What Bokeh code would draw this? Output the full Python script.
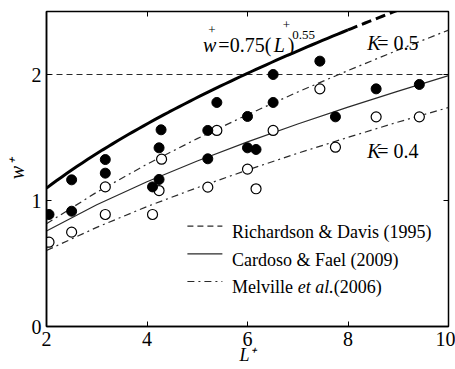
import numpy as np
from bokeh.plotting import figure
from bokeh.models import Range1d, FixedTicker, LinearAxis
from bokeh.core.properties import value
from bokeh.embed import file_html
from bokeh.resources import INLINE

# ---- data ----
filled_L = [2.05, 2.5, 2.5, 3.17, 3.17, 4.28, 4.24, 4.24, 4.11, 5.39, 5.21, 5.21,
            6.0, 6.0, 6.17, 6.51, 6.51, 7.44, 7.75, 8.56, 9.42]
filled_w = [0.889, 1.164, 0.915, 1.325, 1.217, 1.561, 1.418, 1.167, 1.108, 1.778, 1.556, 1.331,
            1.667, 1.418, 1.405, 2.0, 1.778, 2.106, 1.664, 1.886, 1.921]
open_L = [2.05, 2.5, 3.17, 3.17, 4.29, 4.24, 4.11, 5.39, 5.21, 6.0, 6.17, 6.51,
          7.44, 7.75, 8.56, 9.42]
open_w = [0.669, 0.749, 1.108, 0.889, 1.328, 1.079, 0.889, 1.556, 1.106, 1.249, 1.093, 1.556,
          1.886, 1.423, 1.664, 1.664]

curve_L = [2, 3, 4, 5, 6, 7, 8, 9, 10]
cardoso_w = [0.758, 0.966, 1.149, 1.313, 1.465, 1.607, 1.741, 1.868, 1.991]
melville_k05 = [0.816, 1.066, 1.288, 1.491, 1.681, 1.861, 2.031, 2.195, 2.352]
melville_k04 = [0.603, 0.787, 0.952, 1.102, 1.242, 1.375, 1.501, 1.623, 1.738]
richardson_w = 2.0
coef_a, coef_b = 0.75, 0.55   # w+ = 0.75 (L+)^0.55

x_ticks = [2, 4, 6, 8, 10]
y_ticks = [0, 1, 2]

FONT = "Liberation Serif"
LC = "#2a2a2a"

p = figure(width=455, height=369, output_backend="svg", toolbar_location=None,
           x_range=Range1d(2, 10), y_range=Range1d(0, 2.5),
           min_border_left=46, min_border_right=7, min_border_top=11, min_border_bottom=43)
p.background_fill_color = "white"
p.border_fill_color = "white"
p.xgrid.visible = False
p.ygrid.visible = False
p.outline_line_color = "black"
p.outline_line_width = 1.5

for ax, tk in ((p.xaxis[0], x_ticks), (p.yaxis[0], y_ticks)):
    ax.ticker = FixedTicker(ticks=tk)
    ax.major_tick_in = 5
    ax.major_tick_out = 0
    ax.minor_tick_line_color = None
    ax.axis_line_width = 1.5
    ax.axis_line_color = "black"
    ax.major_tick_line_color = "black"
    ax.major_label_text_font = FONT
    ax.major_label_text_font_size = "20px"
    ax.major_label_text_color = "black"
    ax.major_label_standoff = 5

p.yaxis.axis_label = "w\u207a"
p.yaxis.axis_label_text_font = FONT
p.yaxis.axis_label_text_font_style = "italic"
p.yaxis.axis_label_text_font_size = "20px"
p.yaxis.axis_label_standoff = 1
p.yaxis.axis_label_text_color = "black"

p.xaxis.axis_label = "L\u207a"
p.xaxis.axis_label_text_font = FONT
p.xaxis.axis_label_text_font_style = "italic"
p.xaxis.axis_label_text_font_size = "18px"
p.xaxis.axis_label_standoff = -4
p.xaxis.axis_label_text_color = "black"

for loc, tk in (("above", x_ticks), ("right", y_ticks)):
    ax = LinearAxis(ticker=FixedTicker(ticks=tk), major_tick_in=5, major_tick_out=0,
                    minor_tick_line_color=None, axis_line_color=None,
                    major_label_text_font_size="0px", major_label_standoff=0,
                    major_tick_line_color="black")
    p.add_layout(ax, loc)

# lines
p.line([2, 10], [richardson_w, richardson_w], line_color=LC, line_width=1.2, line_dash="6 4")
p.line(curve_L, cardoso_w, line_color=LC, line_width=1.2)
p.line(curve_L, melville_k05, line_color=LC, line_width=1.2, line_dash="7 4 2 4")
p.line(curve_L, melville_k04, line_color=LC, line_width=1.2, line_dash="7 4 2 4")

Ls = np.linspace(2, 8, 60)
p.line(Ls, coef_a * Ls ** coef_b, line_color="black", line_width=3)
Ld = np.linspace(8, 9.3, 20)
p.line(Ld, coef_a * Ld ** coef_b, line_color="black", line_width=3, line_dash="10 5")

# points
p.scatter(open_L, open_w, size=10, marker="circle", fill_color="white",
          line_color="black", line_width=1.2)
p.scatter(filled_L, filled_w, size=10, marker="circle", fill_color="black",
          line_color="black")


def lab(x, y, t, size="20px", style="normal"):
    p.text(x=[x], y=[y], text=[t], text_font=value(FONT), text_font_size=value(size),
           text_font_style=value(style), text_color="black",
           text_baseline="alphabetic", text_align="left")

# equation label
lab(5.114, 2.236, "w", style="italic")
lab(5.22, 2.354, "+", size="13px")
lab(5.42, 2.236, "=0.75(")
lab(6.52, 2.236, "L", style="italic")
lab(6.70, 2.389, "+", size="13px")
lab(6.80, 2.236, ")")
lab(6.89, 2.315, "0.55", size="13px")

# K labels
lab(8.383, 2.248, "K", style="italic")
lab(8.582, 2.248, "= 0.5")
lab(8.383, 1.389, "K", style="italic")
lab(8.582, 1.389, "= 0.4")

# legend (manual)
leg_y = [0.796, 0.577, 0.357]
leg_base = [0.748, 0.529, 0.312]
p.line([4.804, 5.500], [leg_y[0]] * 2, line_color=LC, line_width=1.2, line_dash="6 4")
p.line([4.804, 5.500], [leg_y[1]] * 2, line_color=LC, line_width=1.2)
p.line([4.804, 5.500], [leg_y[2]] * 2, line_color=LC, line_width=1.2, line_dash="7 4 2 4")
lab(5.693, leg_base[0], "Richardson & Davis (1995)", size="18px")
lab(5.693, leg_base[1], "Cardoso & Fael (2009)", size="18px")
lab(5.693, leg_base[2], "Melville ", size="18px")
lab(7.00, leg_base[2], "et al.", size="18px", style="italic")
lab(7.716, leg_base[2], "(2006)", size="18px")

open("out.html", "w").write(file_html(p, INLINE))
